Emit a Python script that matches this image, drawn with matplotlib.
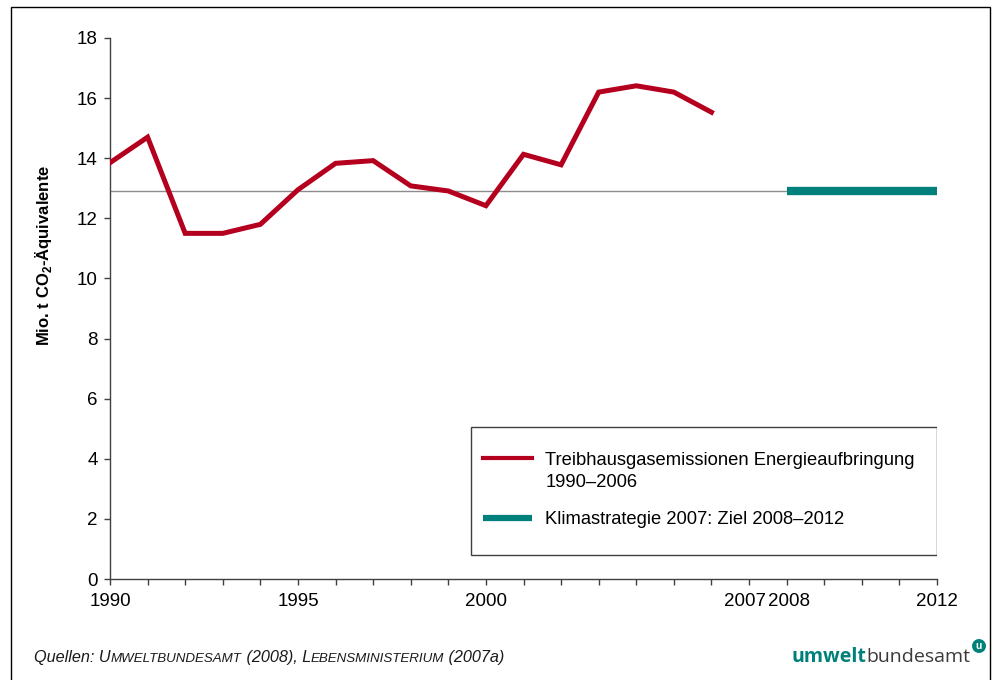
import numpy as np
import matplotlib
matplotlib.use("Agg")
import matplotlib.pyplot as plt
import matplotlib.transforms as mtransforms
from matplotlib.patches import Rectangle
from matplotlib.legend_handler import HandlerLine2D

plt.rcParams['font.family'] = ['Liberation Sans', 'DejaVu Sans']
plt.rcParams['mathtext.fontset'] = 'custom'
plt.rcParams['mathtext.rm'] = 'Liberation Sans'
plt.rcParams['mathtext.bf'] = 'Liberation Sans:bold'

# data
years = list(range(1990, 2007))
emissions = [13.85, 14.7, 11.5, 11.5, 11.8, 12.95, 13.83, 13.92, 13.08, 12.91,
             12.42, 14.13, 13.78, 16.2, 16.41, 16.2, 15.53]
target_years = [2008, 2012]
target_value = 12.9
ref_years = [1990, 2008]   # thin grey reference line at target level
label_years = [1990, 1995, 2000, 2007, 2008, 2012]
yticks = list(range(0, 19, 2))

red = '#B4001E'
teal = '#00807A'

fig = plt.figure(figsize=(9.96, 6.8), dpi=100)
ax = fig.add_axes([110/996, 101/680, 827/996, 541/680])

ax.plot(ref_years, [target_value] * 2, color='#8c8c8c', lw=1.0, zorder=2)
l1, = ax.plot(years, emissions, color=red, lw=3.6, solid_joinstyle='miter', zorder=3,
              label='Treibhausgasemissionen Energieaufbringung\n1990–2006')
l2, = ax.plot(target_years, [target_value] * 2, color=teal, lw=6, solid_capstyle='butt',
              clip_on=False, zorder=3, label='Klimastrategie 2007: Ziel 2008–2012')

ax.set_xlim(1990, 2012)
ax.set_ylim(0, 18)
ax.set_xticks(range(1990, 2013))
ax.set_xticklabels([str(y) if y in label_years else '' for y in range(1990, 2013)])
ax.set_yticks(yticks)
for s in ['top', 'right']:
    ax.spines[s].set_visible(False)
for s in ['left', 'bottom']:
    ax.spines[s].set_color('#404040')
    ax.spines[s].set_linewidth(1.0)
ax.tick_params(axis='both', colors='#404040', labelcolor='black', labelsize=13.5,
               length=4, width=1)
ax.tick_params(axis='y', pad=5)
ax.tick_params(axis='x', pad=6)

# nudge the crowded 2007 / 2008 labels apart
for lab in ax.get_xticklabels():
    if lab.get_text() == '2007':
        lab.set_transform(lab.get_transform() + mtransforms.ScaledTranslation(-4/100, 0, fig.dpi_scale_trans))
    elif lab.get_text() == '2008':
        lab.set_transform(lab.get_transform() + mtransforms.ScaledTranslation(2/100, 0, fig.dpi_scale_trans))

fig.text(43/996, 1 - 255/680, r'Mio. t CO$_\mathbf{2}$-Äquivalente', rotation=90,
         fontsize=12, fontweight='bold', ha='center', va='center')

# legend box
ax.add_patch(Rectangle((0.4365, 0.0444), 0.5635, 0.2366, transform=ax.transAxes,
                       fill=False, ec='#404040', lw=1, zorder=4))


class FirstLine(HandlerLine2D):
    def create_artists(self, legend, orig_handle, xdescent, ydescent, width, height,
                       fontsize, trans):
        arts = super().create_artists(legend, orig_handle, xdescent, ydescent, width,
                                      height, fontsize, trans)
        for a in arts:
            a.set_ydata(np.asarray(a.get_ydata()) + 0.75 * fontsize)
        return arts


leg = ax.legend(handles=[l1, l2], loc='upper left', bbox_to_anchor=(0.451, 0.234),
                bbox_transform=ax.transAxes, frameon=False, fontsize=13.2,
                borderpad=0, borderaxespad=0, handlelength=2.7, handletextpad=0.7,
                labelspacing=1.12, handler_map={l1: FirstLine()})
for t in leg.get_texts():
    t.set_linespacing(1.35)
leg.get_lines()[0].set_linewidth(3)
leg.get_lines()[1].set_linewidth(4.5)

# figure border
fig.patches.append(Rectangle((11/996, -0.01), 979/996, 1 - 7/680 + 0.01,
                             transform=fig.transFigure, fill=False, ec='black', lw=1))

# footer: sources in small caps
renderer = fig.canvas.get_renderer()
x = 34
ybase = 1 - 662/680
pieces = [('Quellen: U', 11.7), ('MWELTBUNDESAMT', 9.6), (' (2008), L', 11.7),
          ('EBENSMINISTERIUM', 9.6), (' (2007a)', 11.7)]
for txt, fs in pieces:
    t = fig.text(x/996, ybase, txt, fontsize=fs, style='italic', va='baseline',
                 ha='left', color='#1a1a1a')
    x = t.get_window_extent(renderer).x1

# logo
lb = fig.text(970/996, ybase, 'bundesamt', fontsize=14, family='Open Sans',
              color='#3a3a3a', ha='right', va='baseline')
x0 = lb.get_window_extent(renderer).x0
fig.text(x0/996, ybase, 'umwelt', fontsize=14, family='Open Sans', fontweight='bold',
         color=teal, ha='right', va='baseline')
fig.text(979/996, 1 - 646/680, 'u', fontsize=7.5, fontweight='bold', color='white',
         ha='center', va='center',
         bbox=dict(boxstyle='circle,pad=0.12', fc=teal, ec=teal))

fig.savefig('out.png', dpi=100)
